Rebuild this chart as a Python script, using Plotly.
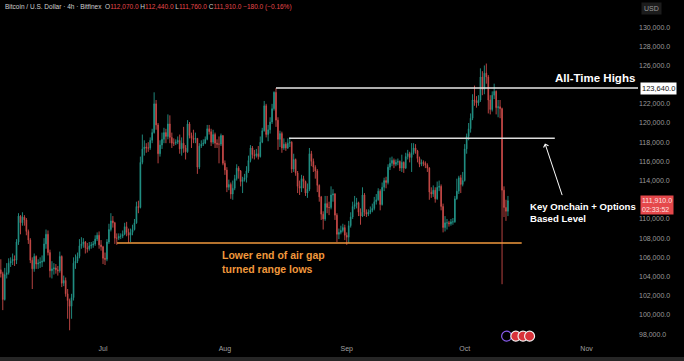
import numpy as np
import pandas as pd
import plotly.graph_objects as go

# ---- 12h candles, values in thousands of USD (Jun 5 2025 00:00 .. Oct 12 2025 00:00) ----
first_open_k = 104.7

close_k = [
    104.3, 101.6, 104.2, 104.4, 105.4, 105.6, 105.8, 105.7, 107.6, 110.3, 109.6, 110.2, 109.9, 108.7,
    107.8, 105.7, 104.8, 106.1, 105.3, 105.4, 105.5, 105.6, 107.4, 108.4, 106.5, 104.6, 104.8, 104.9,
    104.7, 104.6, 106.1, 103.3, 103.6, 102.2, 101.5, 100.9, 101.8, 105.4, 105.6, 106.1, 107.2, 107.4,
    107.6, 107.0, 106.9, 107.2, 107.3, 107.4, 107.9, 108.3, 107.3, 107.1, 105.9, 105.8, 107.6, 108.9,
    109.8, 109.6, 108.0, 108.0, 108.2, 108.2, 108.4, 109.2, 108.6, 108.3, 108.6, 108.9, 109.6, 111.3,
    111.2, 115.9, 117.3, 117.5, 117.4, 117.4, 118.2, 119.0, 122.0, 119.8, 116.8, 117.7, 118.3, 119.0,
    118.6, 119.9, 118.5, 117.9, 117.9, 118.0, 118.2, 117.3, 117.9, 117.4, 117.0, 119.9, 118.7, 118.4,
    118.3, 118.4, 115.4, 117.6, 117.8, 117.9, 118.3, 119.4, 119.1, 118.0, 118.8, 117.9, 117.8, 117.8,
    118.7, 115.8, 115.1, 113.3, 113.6, 112.6, 113.2, 114.2, 115.3, 115.0, 113.9, 114.1, 114.3, 115.0,
    116.1, 117.4, 116.7, 116.6, 116.8, 116.5, 118.0, 119.2, 121.8, 118.8, 119.3, 120.1, 121.5, 123.2,
    120.3, 118.3, 118.9, 117.4, 117.8, 117.4, 117.9, 118.0, 115.2, 116.2, 114.8, 113.4, 113.2, 114.2,
    113.9, 112.7, 113.1, 116.8, 116.0, 115.4, 115.0, 113.5, 112.3, 110.5, 110.0, 111.6, 111.2, 111.2,
    112.5, 112.6, 110.4, 108.4, 108.6, 108.8, 109.1, 108.3, 108.1, 109.3, 110.2, 111.3, 111.5, 111.7,
    110.7, 110.3, 112.5, 110.7, 110.5, 110.7, 110.9, 111.1, 111.8, 112.0, 112.9, 111.5, 113.3, 114.0,
    113.8, 115.4, 115.8, 116.1, 115.7, 115.9, 116.0, 115.3, 115.9, 115.3, 116.5, 116.8, 116.4, 116.9,
    117.4, 117.1, 116.3, 115.7, 115.9, 115.8, 115.6, 115.3, 112.8, 112.6, 113.0, 112.1, 113.3, 113.4,
    111.3, 109.1, 109.6, 109.6, 109.5, 109.7, 109.7, 112.1, 112.9, 114.3, 113.6, 114.0, 117.3, 118.6,
    119.4, 120.5, 122.4, 122.3, 122.1, 122.4, 124.8, 123.5, 125.2, 124.8, 122.4, 121.4, 122.9, 123.3,
    121.6, 121.7, 121.5, 113.0, 111.2, 110.8, 111.91,
]

high_k = [
    105.8, 104.5, 104.9, 105.4, 105.9, 106.0, 106.4, 106.2, 107.9, 110.6, 110.4, 110.7, 110.4, 110.1,
    108.9, 108.0, 106.0, 106.4, 106.2, 105.8, 106.0, 106.2, 108.0, 108.9, 108.8, 106.8, 105.6, 105.4,
    105.3, 105.1, 106.6, 106.2, 104.1, 103.9, 102.7, 101.7, 102.2, 106.0, 106.3, 106.5, 107.9, 108.1,
    108.0, 107.7, 107.5, 107.6, 107.6, 107.7, 108.3, 108.6, 108.7, 107.8, 107.2, 106.5, 107.9, 109.5,
    110.6, 110.3, 109.7, 108.5, 108.5, 108.5, 108.8, 109.6, 109.7, 109.0, 109.0, 109.4, 110.0, 111.8,
    111.9, 116.5, 118.8, 118.2, 117.9, 118.0, 118.5, 119.4, 123.2, 122.4, 120.0, 118.2, 119.0, 119.5,
    119.4, 120.9, 120.8, 119.0, 118.4, 118.3, 118.6, 118.8, 118.5, 119.6, 117.7, 120.3, 120.1, 119.0,
    119.3, 119.0, 118.4, 117.9, 118.2, 118.3, 118.6, 119.8, 119.8, 119.4, 119.3, 119.0, 118.3, 118.6,
    118.9, 118.7, 116.1, 115.4, 114.1, 113.8, 114.0, 114.6, 115.7, 115.5, 115.1, 114.4, 114.7, 115.5,
    116.6, 117.7, 117.6, 117.2, 117.3, 117.6, 118.6, 119.5, 122.3, 122.0, 119.8, 120.6, 122.0, 123.3,
    123.64, 120.6, 119.2, 119.1, 118.4, 118.0, 118.4, 118.5, 118.1, 116.8, 116.3, 115.0, 114.0, 114.6,
    114.5, 114.0, 113.7, 117.4, 117.1, 116.3, 115.6, 115.2, 113.6, 112.4, 110.8, 112.4, 112.4, 111.8,
    113.4, 113.1, 112.7, 110.6, 109.0, 109.3, 109.5, 109.4, 108.6, 109.8, 110.7, 111.8, 112.4, 112.2,
    111.8, 111.1, 113.3, 112.7, 111.0, 111.0, 111.3, 111.6, 112.3, 112.6, 113.2, 113.1, 113.8, 114.3,
    114.4, 115.7, 116.4, 116.5, 116.3, 116.2, 116.3, 116.1, 116.7, 116.0, 116.9, 117.2, 117.0, 117.9,
    117.9, 117.8, 117.2, 116.5, 116.2, 116.1, 116.0, 115.8, 115.4, 113.3, 113.5, 113.3, 113.9, 114.0,
    113.6, 111.6, 110.3, 110.0, 109.8, 110.0, 110.1, 112.4, 114.2, 114.5, 114.6, 114.9, 117.8, 118.9,
    120.0, 121.0, 123.0, 123.9, 122.8, 122.9, 125.7, 125.4, 126.0, 126.2, 125.0, 122.9, 123.3, 124.1,
    123.4, 122.4, 122.4, 121.6, 113.4, 112.0, 112.4,
]

low_k = [
    103.9, 100.5, 101.5, 103.8, 104.2, 105.0, 105.2, 105.1, 105.3, 107.3, 108.4, 109.3, 109.3, 108.3,
    107.4, 105.4, 102.7, 104.5, 104.8, 104.8, 104.9, 105.0, 105.5, 106.9, 106.2, 103.9, 103.8, 104.2,
    104.3, 104.1, 104.4, 102.9, 103.0, 101.9, 99.6, 98.4, 99.6, 101.5, 104.8, 105.4, 105.9, 106.9,
    107.0, 106.4, 106.5, 106.7, 106.9, 107.0, 107.2, 107.7, 106.9, 106.7, 105.3, 105.2, 105.6, 107.4,
    108.7, 109.1, 107.4, 107.3, 107.8, 107.9, 108.0, 108.3, 108.2, 107.5, 107.6, 108.3, 108.8, 109.5,
    110.6, 111.1, 115.7, 116.6, 116.9, 117.0, 117.2, 117.9, 118.9, 119.3, 115.8, 116.5, 117.3, 117.9,
    117.9, 118.3, 117.9, 117.4, 117.6, 117.7, 117.8, 116.8, 116.6, 116.9, 116.2, 116.9, 118.4, 117.4,
    117.9, 117.9, 114.7, 115.2, 117.4, 117.6, 117.8, 118.2, 118.8, 117.6, 117.8, 117.4, 117.4, 115.8,
    117.6, 115.6, 114.6, 112.8, 113.0, 112.1, 112.0, 113.0, 114.0, 114.2, 113.4, 112.7, 113.9, 113.8,
    114.8, 115.9, 116.3, 116.2, 116.4, 116.2, 116.4, 117.9, 119.1, 118.5, 118.1, 118.9, 119.9, 121.3,
    119.6, 117.2, 117.5, 116.9, 117.2, 117.1, 117.3, 117.5, 114.8, 114.9, 114.5, 112.7, 112.5, 112.8,
    113.2, 112.4, 112.2, 112.9, 115.5, 114.9, 114.2, 112.8, 111.8, 109.9, 108.9, 109.8, 110.6, 110.4,
    111.0, 111.8, 109.9, 107.6, 107.9, 108.4, 108.6, 107.8, 107.3, 107.5, 109.1, 110.0, 111.0, 111.1,
    110.3, 109.4, 110.2, 110.3, 110.2, 110.3, 110.5, 110.7, 110.9, 111.5, 111.9, 110.9, 111.4, 112.9,
    113.2, 113.6, 115.1, 115.5, 115.3, 115.5, 115.6, 115.0, 114.9, 114.8, 115.2, 116.2, 115.9, 114.9,
    116.7, 116.8, 115.9, 115.4, 115.5, 115.5, 115.3, 114.9, 112.0, 112.2, 112.3, 111.7, 112.0, 112.9,
    110.9, 108.6, 108.7, 108.9, 109.2, 109.3, 109.4, 109.6, 112.0, 112.6, 112.7, 113.4, 113.9, 116.8,
    118.2, 119.0, 120.3, 121.8, 121.6, 121.8, 122.2, 122.9, 123.0, 124.1, 121.0, 120.9, 121.2, 122.5,
    120.9, 120.6, 120.5, 103.2, 110.2, 109.8, 110.3,
]

# Levels drawn on the chart
ath_level = 123640
key_level = 118400
range_low = 107500
last_price = 111910

month_ticks = ["2025-07-01", "2025-08-01", "2025-09-01", "2025-10-01", "2025-11-01"]
month_labels = ["Jul", "Aug", "Sep", "Oct", "Nov"]
price_ticks = [98000, 100000, 102000, 104000, 106000, 108000, 110000, 114000,
               116000, 118000, 120000, 122000, 126000, 128000, 130000]

# ---- build OHLC ----
times = pd.date_range("2025-06-05 00:00", periods=len(close_k), freq="12h")
close = np.array(close_k) * 1000
opn = np.concatenate([[first_open_k * 1000], close[:-1]])
high = np.maximum(np.array(high_k) * 1000, np.maximum(opn, close))
low = np.minimum(np.array(low_k) * 1000, np.minimum(opn, close))

UP = "#239488"
DOWN = "#c94b48"
ORANGE = "#f0983c"
FONT = "Liberation Sans"

fig = go.Figure()
fig.add_trace(go.Candlestick(
    x=times, open=opn, high=high, low=low, close=close,
    increasing=dict(line=dict(color=UP, width=0.9), fillcolor=UP),
    decreasing=dict(line=dict(color=DOWN, width=0.9), fillcolor=DOWN),
    whiskerwidth=0, showlegend=False, hoverinfo="skip",
))

x_left = "2025-06-04 19:00"
x_right = "2025-11-14 02:00"

shapes = [
    dict(type="line", xref="x", yref="y", x0="2025-08-14 00:00", x1=x_right,
         y0=ath_level, y1=ath_level, line=dict(color="#e8e8e8", width=1.5)),
    dict(type="line", xref="x", yref="y", x0="2025-08-17 08:00", x1="2025-10-23 22:00",
         y0=key_level, y1=key_level, line=dict(color="#dcdcdc", width=1.5)),
    dict(type="line", xref="x", yref="y", x0="2025-07-04 13:00", x1="2025-10-15 12:00",
         y0=range_low, y1=range_low, line=dict(color=ORANGE, width=1.5)),
    # bottom border strip
    dict(type="rect", xref="paper", yref="paper", x0=0, x1=1.08, y0=-0.06, y1=-0.041,
         fillcolor="#262626", line=dict(width=0), layer="above"),
]
# event icons near the time axis
icon_specs = [("2025-10-11 16:00", "rgba(0,0,0,0)", "#8a5cf0"),
              ("2025-10-14 00:00", "#d8323a", "#f2f2f2"),
              ("2025-10-15 20:00", "#d8323a", "#f2f2f2"),
              ("2025-10-17 12:00", "#d8323a", "#f2f2f2")]
for xd, fill, edge in icon_specs:
    shapes.append(dict(type="circle", xref="x", yref="paper", xsizemode="pixel", ysizemode="pixel",
                       xanchor=xd, yanchor=0.02, x0=-5, x1=5, y0=-5, y1=5,
                       fillcolor=fill, line=dict(color=edge, width=1.2)))

red = "#e5484b"
title = ("Bitcoin / U.S. Dollar · 4h · Bitfinex&nbsp;&nbsp;"
         f"O<span style='color:{red}'>112,070.0</span>&nbsp;"
         f"H<span style='color:{red}'>112,440.0</span>&nbsp;"
         f"L<span style='color:{red}'>111,760.0</span>&nbsp;"
         f"C<span style='color:{red}'>111,910.0</span>&nbsp;"
         f"<span style='color:{red}'>−180.0 (−0.16%)</span>")

annotations = [
    dict(xref="paper", yref="paper", x=0.004, y=0.997, xanchor="left", yanchor="top",
         text=title, showarrow=False, font=dict(family=FONT, size=6.5, color="#d0d0d0")),
    dict(xref="paper", yref="paper", x=1, y=0.995, xanchor="left", yanchor="top", xshift=3,
         text="USD", showarrow=False, bgcolor="#1c1c1c", borderpad=2,
         font=dict(family=FONT, size=7, color="#9a9a9a")),
    dict(xref="paper", yref="y", x=1, y=ath_level, xanchor="left", yanchor="middle", xshift=2,
         text="123,640.0", showarrow=False, bgcolor="#ffffff", borderpad=1,
         font=dict(family=FONT, size=7.5, color="#111111")),
    dict(xref="paper", yref="y", x=1, y=last_price - 500, xanchor="left", yanchor="middle", xshift=2,
         text="111,910.0<br>02:33:52", showarrow=False, bgcolor=red, borderpad=1, align="left",
         font=dict(family=FONT, size=7, color="#ffe0e0")),
    dict(xref="paper", yref="y", x=0.998, y=124660, xanchor="right", yanchor="middle",
         text="<b>All-Time Highs</b>", showarrow=False,
         font=dict(family=FONT, size=11.5, color="#ffffff")),
    dict(xref="x", yref="y", x="2025-10-17 00:00", y=110660, xanchor="left", yanchor="middle",
         text="<b>Key Onchain + Options<br>Based Level</b>", showarrow=False, align="left",
         font=dict(family=FONT, size=9.6, color="#ffffff")),
    dict(xref="x", yref="y", x="2025-07-30 18:00", y=105500, xanchor="left", yanchor="middle",
         text="<b>Lower end of air gap<br>turned range lows</b>", showarrow=False, align="left",
         font=dict(family=FONT, size=10.5, color=ORANGE)),
    dict(xref="x", yref="y", axref="x", ayref="y",
         x="2025-10-21 10:00", y=117870, ax="2025-10-25 22:00", ay=112330,
         text="", showarrow=True, arrowhead=4, arrowsize=1, arrowwidth=1, arrowcolor="#ffffff",
         standoff=0, startstandoff=0),
]

fig.update_layout(
    width=684, height=361,
    margin=dict(l=0, r=46, t=0, b=18),
    paper_bgcolor="#000000", plot_bgcolor="#000000",
    showlegend=False, hovermode=False, boxgap=0.5,
    shapes=shapes, annotations=annotations,
    xaxis=dict(type="date", range=[x_left, x_right], rangeslider=dict(visible=False),
               tickvals=month_ticks, ticktext=month_labels, showgrid=False, zeroline=False,
               showline=False, ticks="", tickfont=dict(family=FONT, size=7, color="#a0a0a0")),
    yaxis=dict(side="right", range=[97073, 132822], tickvals=price_ticks, tickformat=",.1f",
               showgrid=False, zeroline=False, showline=False, ticks="",
               tickfont=dict(family=FONT, size=7, color="#9a9a9a")),
)

fig.write_html("out.html")
